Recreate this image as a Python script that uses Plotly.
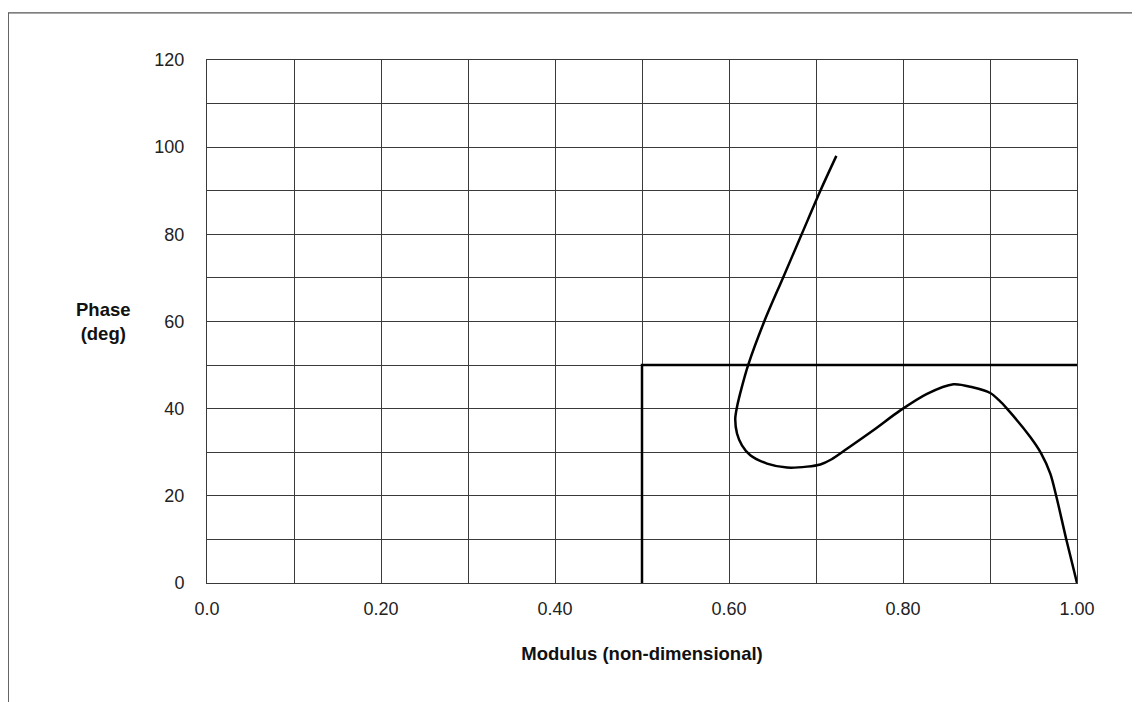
import plotly.graph_objects as go

# Curve (modulus, phase), in drawing order
curve_modulus = [0.7234, 0.705, 0.6835, 0.662, 0.6405, 0.622, 0.6148, 0.6092, 0.6072,
                 0.6092, 0.6149, 0.6245, 0.6437, 0.6667, 0.6897, 0.705, 0.718,
                 0.7356, 0.7663, 0.7969, 0.8276, 0.858, 0.880, 0.9003, 0.910, 0.9195,
                 0.9463, 0.9586, 0.9693, 0.9762, 0.9877, 1.000]
curve_phase = [98, 90, 80, 70, 60, 50, 45, 40.4, 37.7,
               34.3, 31.6, 29.3, 27.4, 26.5, 26.7, 27.2, 28.4,
               30.8, 35.1, 39.6, 43.4, 45.6, 44.9, 43.6, 42.0, 40,
               33.5, 29.8, 25.1, 19.9, 10, 0]

# Boundary lines
bound_modulus = [0.5, 0.5, 1.0]
bound_phase = [0, 50, 50]

x_tickvals = [0.0, 0.2, 0.4, 0.6, 0.8, 1.0]
x_ticktext = ["0.0", "0.20", "0.40", "0.60", "0.80", "1.00"]
x_minor = [0.1, 0.3, 0.5, 0.7, 0.9]
y_tickvals = [0, 20, 40, 60, 80, 100, 120]
y_minor = [10, 30, 50, 70, 90, 110]

FONT = "Liberation Sans, Arial, sans-serif"
GRID = "#3a3a3a"

fig = go.Figure()
fig.add_trace(go.Scatter(x=bound_modulus, y=bound_phase, mode="lines",
                         line=dict(color="black", width=2.5), hoverinfo="skip"))
fig.add_trace(go.Scatter(x=curve_modulus, y=curve_phase, mode="lines",
                         line=dict(color="black", width=2.5, shape="spline", smoothing=0.85),
                         hoverinfo="skip"))

# page body has an 8px margin; target pixel positions are in window coords
OFF = 8
W, H = 1140 - OFF, 702 - OFF
L = 206.7 - OFF
T = 60 - OFF
R = W - (1076.7 - OFF)
B = H - (582.7 - OFF)
pw, ph = W - L - R, H - T - B

def px_x(p):
    return (p - OFF - L) / pw

def px_y(p):
    return (H - B - (p - OFF)) / ph

# Outer frame
fig.add_shape(type="rect", xref="paper", yref="paper",
              x0=px_x(8), x1=px_x(1160), y0=px_y(720), y1=px_y(13),
              line=dict(color="#555555", width=1.2), layer="below")

fig.add_annotation(xref="paper", yref="y", x=px_x(103), y=60,
                   xanchor="center", yanchor="middle",
                   text="<b>Phase<br>(deg)</b>", showarrow=False,
                   font=dict(family=FONT, size=18.5, color="#111"), align="center")

fig.update_layout(
    width=W, height=H,
    margin=dict(l=L, r=R, t=T, b=B),
    paper_bgcolor="white", plot_bgcolor="white",
    showlegend=False,
    font=dict(family=FONT, size=18, color="#222"),
    xaxis=dict(range=[0, 1.0], tickvals=x_tickvals, ticktext=x_ticktext,
               showgrid=True, gridcolor=GRID, gridwidth=1,
               minor=dict(tickvals=x_minor, showgrid=True, gridcolor=GRID, gridwidth=1),
               showline=True, linecolor=GRID, linewidth=1, mirror=True,
               zeroline=False, ticks="", ticklabelstandoff=9,
               title=dict(text="<b>Modulus (non-dimensional)</b>", standoff=29,
                          font=dict(family=FONT, size=18.5, color="#111"))),
    yaxis=dict(range=[0, 120], tickvals=y_tickvals,
               showgrid=True, gridcolor=GRID, gridwidth=1,
               minor=dict(tickvals=y_minor, showgrid=True, gridcolor=GRID, gridwidth=1),
               showline=True, linecolor=GRID, linewidth=1, mirror=True,
               zeroline=False, ticks="", ticklabelstandoff=18),
)

fig.write_html("out.html")
